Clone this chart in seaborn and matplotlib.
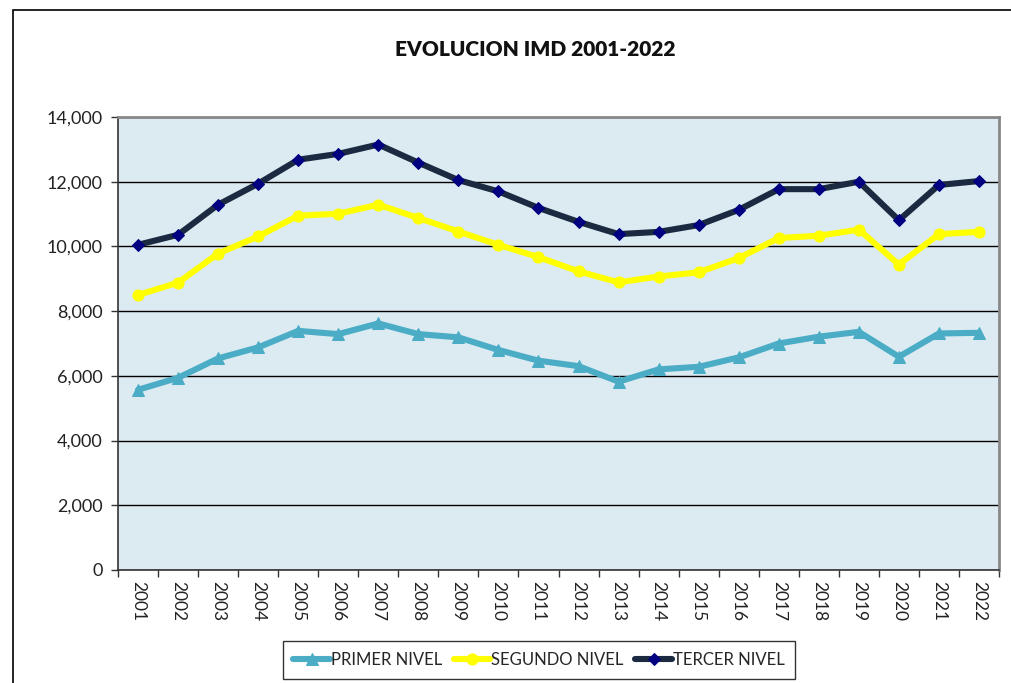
import matplotlib
matplotlib.use("Agg")
import matplotlib.pyplot as plt
import matplotlib.ticker as mticker
from matplotlib.patches import Rectangle
import seaborn as sns
import pandas as pd
import numpy as np

years = [str(y) for y in range(2001, 2023)]
primer = [5570, 5940, 6540, 6880, 7390, 7290, 7620, 7290, 7190, 6800, 6470,
          6300, 5820, 6200, 6280, 6570, 7000, 7210, 7360, 6590, 7310, 7330]
segundo = [8500, 8880, 9780, 10310, 10950, 11010, 11290, 10880, 10460, 10050, 9670,
           9230, 8890, 9070, 9200, 9640, 10260, 10330, 10520, 9440, 10380, 10450]
tercer = [10050, 10360, 11290, 11940, 12680, 12860, 13150, 12590, 12050, 11700, 11190,
          10760, 10380, 10450, 10660, 11130, 11770, 11770, 12000, 10810, 11900, 12020]
series_names = ["PRIMER NIVEL", "SEGUNDO NIVEL", "TERCER NIVEL"]
title = "EVOLUCION IMD 2001-2022"

sns.set_theme(style="white")
plt.rcParams['font.family'] = ['Lato', 'DejaVu Sans']

fig = plt.figure(figsize=(10.12, 6.83), dpi=100)
W, H = 1012, 683
ax = fig.add_axes([118 / W, 1 - 570 / H, (999 - 118) / W, (570 - 117) / H])
ax.set_facecolor("#DCEBF2")

x = np.arange(len(years))
styles = [
    (primer, "#4BACC6", "#4BACC6", "^", 9),
    (segundo, "#FFFF00", "#FFFF00", "o", 8),
    (tercer, "#1B2A41", "#000080", "D", 6),
]
for (vals, lc, mc, mk, ms), name in zip(styles, series_names):
    sns.lineplot(x=x, y=vals, ax=ax, color=lc, linewidth=4.4, marker=mk,
                 markersize=ms, markerfacecolor=mc, markeredgecolor=mc,
                 label=name, zorder=3)

ax.set_xlim(-0.5, len(years) - 0.5)
ax.set_ylim(0, 14000)
ax.set_yticks(np.arange(0, 14001, 2000))
ax.yaxis.set_major_formatter(mticker.FuncFormatter(lambda v, p: f"{int(v):,}"))
ax.grid(axis="y", color="black", linewidth=1.0, zorder=1)
ax.set_axisbelow(True)

ax.set_xticks(x)
ax.set_xticklabels(years, rotation=-90, fontsize=12.5, color="#222222")
ax.set_xticks(np.arange(-0.5, len(years), 1), minor=True)
ax.tick_params(axis="x", which="major", length=0, pad=8)
ax.tick_params(axis="x", which="minor", length=5, width=1, color="#333333", direction="out", bottom=True)
ax.tick_params(axis="y", length=5, width=1, color="#333333", direction="out", left=True,
               labelsize=13, labelcolor="#222222", pad=6)

for side in ["top", "right"]:
    ax.spines[side].set_color("#888888")
    ax.spines[side].set_linewidth(2)
ax.spines["left"].set_color("#333333")
ax.spines["left"].set_linewidth(1.2)
ax.spines["bottom"].set_color("#333333")
ax.spines["bottom"].set_linewidth(1.2)

fig.text(535 / W, 1 - 50 / H, title, ha="center", va="center", fontsize=15,
         fontweight="heavy", color="#111111")

leg = ax.legend(loc="center", bbox_to_anchor=((539 - 118) / (999 - 118), (570 - 660) / (570 - 117)),
                ncol=3, frameon=True, fancybox=False, fontsize=12, handlelength=2.2,
                handletextpad=0.05, columnspacing=0.7, borderpad=0.65)
leg.get_frame().set_edgecolor("#000000")
leg.get_frame().set_linewidth(1.0)

fig.patches.append(Rectangle((13 / W, -0.1), 2, 1 - 10 / H + 0.1, transform=fig.transFigure,
                             fill=False, edgecolor="black", linewidth=1.2))

fig.savefig("out.png", dpi=100)
